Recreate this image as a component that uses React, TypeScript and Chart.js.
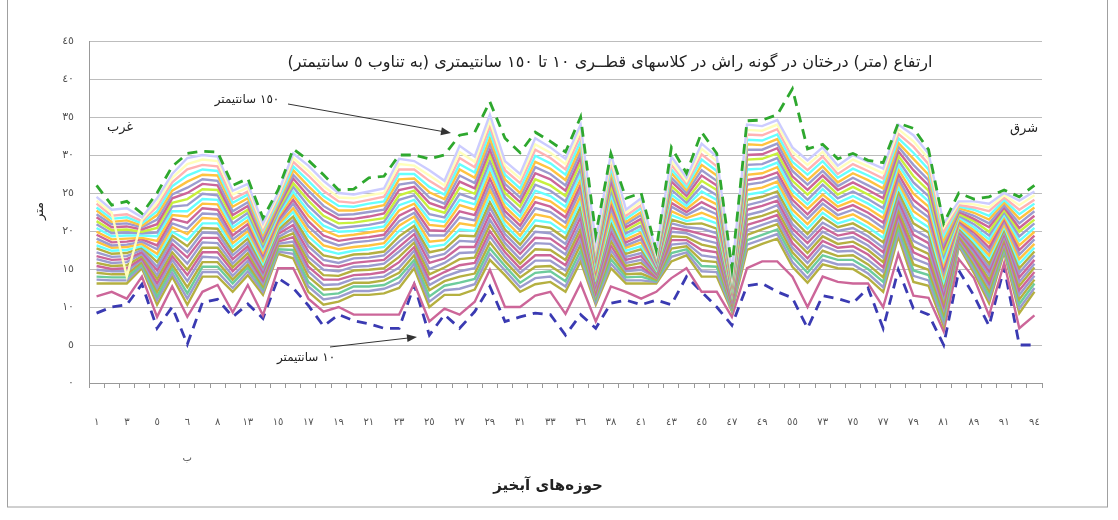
import React, { useEffect, useRef } from 'react';
import { Chart, registerables } from 'chart.js';

Chart.register(...registerables);

// Watershed codes (x categories); only every other one is printed on the axis
const CATEGORIES = ['١','٢','٣','٤','٥','٦ الف','٦ ب','٧','٨','١٢','١٣','١٤','١٥','١٦','١٧','١٨','١٩','٢٠','٢١','٢٢','٢٣','٢٤','٢٥','٢٦','٢٧','٢٨','٢٩','٣٠','٣١','٣٢','٣٣','٣٥','٣٦','٣٧','٣٨','٤٠','٤١','٤٢','٤٣','٤٤','٤٥','٤٦','٤٧','٤٨','٤٩','٥٠','٥٥','٧٠','٧٣','٧٤','٧٥','٧٦','٧٧','٧٨','٧٩','٨٠','٨١','٨٥','٨٩','٩٠','٩١','٩٢','٩٤'];

const Y_TICK_LABELS = ['٠','٥','١٠','١٥','٢٠','٢٥','٣٠','٣٥','٤٠','٤٥'];

const SERIES_LABELS = ['١٠','١٥','٢٠','٢٥','٣٠','٣٥','٤٠','٤٥','٥٠','٥٥','٦٠','٦٥','٧٠','٧٥','٨٠','٨٥','٩٠','٩٥','١٠٠','١٠٥','١١٠','١١٥','١٢٠','١٢٥','١٣٠','١٣٥','١٤٠','١٤٥','١٥٠'];

// Tree height (m) per diameter class (cm)
const H10 = [9.2,10.0,10.3,13.0,7.2,10.0,5.1,10.6,11.0,8.7,10.4,8.5,13.8,12.5,10.2,7.5,9.0,8.2,7.8,7.2,7.2,12.9,6.3,9.0,7.2,9.4,12.7,8.1,8.7,9.2,9.0,6.3,9.0,7.2,10.5,10.9,10.3,10.9,10.3,14.0,12.0,10.0,7.6,12.8,13.1,12.0,11.2,7.2,11.5,11.1,10.5,12.5,7.2,14.9,9.8,9.0,5.0,14.8,11.5,7.5,15.2,5.0,5.0];
const H15 = [11.4,12.0,11.1,14.0,8.7,12.7,8.7,12.0,12.9,9.3,12.9,8.9,15.1,15.1,11.1,9.4,10.0,9.0,9.0,9.0,9.0,13.1,8.1,9.8,9.0,10.7,14.9,10.0,10.0,11.5,12.0,9.1,13.1,8.1,12.7,12.0,11.1,12.0,13.8,15.1,12.0,12.0,8.7,15.1,16.0,16.0,14.0,10.0,14.0,13.3,13.1,13.1,10.0,17.0,11.5,11.2,6.8,16.3,13.8,8.9,15.8,7.2,8.9];
const H20 = [13.1,13.1,13.1,15.1,10.3,14.0,10.3,14.0,14.0,12.0,14.2,11.6,17.0,16.4,12.0,10.3,10.7,11.6,11.6,11.8,12.5,15.1,10.0,11.6,11.6,12.3,16.2,14.2,12.0,13.0,13.3,12.0,16.0,10.3,15.1,13.1,13.1,13.1,16.0,16.8,14.0,14.0,9.4,17.5,18.3,19.0,15.3,13.2,15.6,15.1,15.0,13.8,12.0,19.3,13.3,12.8,7.5,18.0,14.5,10.5,17.2,9.2,12.0];
const H25 = [13.6,13.5,13.5,15.4,10.9,14.5,11.1,14.6,14.6,12.5,14.7,12.0,17.3,17.0,12.7,11.0,11.3,12.1,12.1,12.4,13.2,15.7,10.7,12.2,12.4,13.0,17.0,14.8,12.6,13.8,14.0,12.7,16.7,10.6,15.7,13.5,13.5,13.3,16.6,17.2,14.7,14.6,9.6,18.2,18.9,19.6,15.9,13.8,16.2,15.6,15.6,14.4,12.6,19.9,14.1,13.5,8.0,18.2,14.9,11.0,17.5,9.8,12.5];
const H30 = [14.0,13.9,13.9,15.6,11.4,15.1,11.8,15.3,15.3,13.1,15.2,12.4,17.6,17.5,13.3,11.6,11.8,12.7,12.7,12.9,13.9,16.2,11.4,12.8,13.2,13.7,17.7,15.4,13.2,14.5,14.7,13.4,17.4,11.0,16.3,13.9,14.0,13.4,17.1,17.6,15.4,15.3,9.8,18.8,19.5,20.2,16.6,14.5,16.8,16.2,16.2,15.0,13.3,20.5,14.8,14.2,8.6,18.5,15.3,11.5,17.8,10.4,13.1];
const H35 = [14.5,14.3,14.3,15.9,12.0,15.6,12.6,15.9,15.9,13.6,15.6,12.7,18.0,18.1,14.0,12.3,12.4,13.2,13.2,13.5,14.5,16.8,12.2,13.4,14.0,14.4,18.5,16.0,13.9,15.3,15.4,14.1,18.2,11.3,16.9,14.3,14.4,13.6,17.7,18.0,16.1,15.9,10.0,19.5,20.2,20.9,17.2,15.1,17.4,16.7,16.8,15.6,13.9,21.1,15.6,14.9,9.1,18.7,15.6,12.1,18.1,11.0,13.6];
const H40 = [14.9,14.7,14.7,16.2,12.5,16.2,13.4,16.6,16.5,14.1,16.1,13.1,18.3,18.6,14.7,12.9,13.0,13.7,13.8,14.0,15.2,17.4,12.9,14.0,14.7,15.1,19.3,16.6,14.5,16.1,16.1,14.8,18.9,11.6,17.5,14.7,14.9,13.8,18.2,18.4,16.8,16.5,10.2,20.1,20.8,21.5,17.8,15.8,18.1,17.3,17.4,16.2,14.6,21.7,16.4,15.6,9.7,18.9,16.0,12.6,18.4,11.6,14.1];
const H45 = [15.4,15.0,15.1,16.4,13.1,16.7,14.2,17.2,17.2,14.7,16.6,13.5,18.6,19.2,15.3,13.6,13.6,14.2,14.3,14.6,15.9,17.9,13.6,14.6,15.5,15.8,20.0,17.2,15.1,16.8,16.8,15.5,19.6,11.9,18.1,15.0,15.3,13.9,18.8,18.8,17.5,17.2,10.4,20.8,21.4,22.1,18.4,16.4,18.7,17.8,18.0,16.9,15.2,22.2,17.2,16.3,10.2,19.2,16.4,13.1,18.8,12.2,14.6];
const H50 = [15.8,15.4,15.5,16.7,13.7,17.2,14.9,17.8,17.8,15.2,17.1,13.9,18.9,19.7,16.0,14.2,14.1,14.8,14.9,15.1,16.6,18.5,14.3,15.2,16.3,16.5,20.8,17.8,15.7,17.6,17.5,16.2,20.3,12.3,18.7,15.4,15.8,14.1,19.3,19.2,18.2,17.8,10.6,21.5,22.0,22.7,19.1,17.1,19.3,18.3,18.6,17.5,15.9,22.8,17.9,17.0,10.7,19.4,16.8,13.6,19.1,12.8,15.2];
const H55 = [16.3,15.8,15.9,17.0,14.2,17.8,15.7,18.5,18.4,15.7,17.6,14.2,19.2,20.3,16.6,14.9,14.7,15.3,15.4,15.7,17.3,19.0,15.0,15.8,17.1,17.2,21.5,18.4,16.3,18.4,18.3,16.9,21.0,12.6,19.3,15.8,16.2,14.2,19.9,19.7,18.9,18.4,10.9,22.1,22.6,23.4,19.7,17.7,19.9,18.9,19.2,18.1,16.5,23.4,18.7,17.7,11.3,19.7,17.1,14.2,19.4,13.3,15.7];
const H60 = [16.7,16.2,16.3,17.2,14.8,18.3,16.5,19.1,19.1,16.3,18.0,14.6,19.6,20.8,17.3,15.5,15.3,15.8,16.0,16.2,17.9,19.6,15.8,16.4,17.9,17.9,22.3,19.0,17.0,19.1,19.0,17.6,21.8,12.9,19.9,16.2,16.7,14.4,20.4,20.1,19.6,19.1,11.1,22.8,23.3,24.0,20.3,18.4,20.5,19.4,19.8,18.7,17.2,24.0,19.5,18.4,11.8,19.9,17.5,14.7,19.7,13.9,16.2];
const H65 = [17.2,16.6,16.7,17.5,15.3,18.9,17.2,19.8,19.7,16.8,18.5,15.0,19.9,21.4,18.0,16.2,15.8,16.4,16.5,16.8,18.6,20.2,16.5,17.0,18.7,18.6,23.1,19.6,17.6,19.9,19.7,18.3,22.5,13.3,20.5,16.6,17.1,14.6,21.0,20.5,20.3,19.7,11.3,23.4,23.9,24.6,20.9,19.0,21.1,20.0,20.4,19.3,17.8,24.6,20.2,19.1,12.4,20.1,17.9,15.2,20.0,14.5,16.8];
const H70 = [17.7,17.0,17.1,17.8,15.9,19.4,18.0,20.4,20.3,17.3,19.0,15.4,20.2,21.9,18.6,16.8,16.4,16.9,17.0,17.3,19.3,20.7,17.2,17.6,19.4,19.3,23.8,20.2,18.2,20.7,20.4,19.0,23.2,13.6,21.1,17.0,17.6,14.7,21.5,20.9,21.0,20.3,11.5,24.1,24.5,25.2,21.6,19.6,21.8,20.5,21.0,19.9,18.5,25.2,21.0,19.8,12.9,20.4,18.3,15.7,20.3,15.1,17.3];
const H75 = [18.1,17.4,17.5,18.0,16.5,19.9,18.8,21.0,21.0,17.9,19.5,15.7,20.5,22.5,19.3,17.5,17.0,17.4,17.6,17.9,20.0,21.3,17.9,18.2,20.2,20.0,24.6,20.8,18.8,21.4,21.1,19.7,23.9,13.9,21.7,17.4,18.0,14.9,22.1,21.3,21.7,21.0,11.7,24.8,25.1,25.9,22.2,20.3,22.4,21.0,21.6,20.5,19.1,25.8,21.8,20.5,13.4,20.6,18.6,16.3,20.6,15.7,17.8];
const H80 = [18.6,17.8,17.9,18.3,17.0,20.5,19.6,21.7,21.6,18.4,20.0,16.1,20.8,23.0,20.0,18.1,17.6,17.9,18.1,18.4,20.7,21.9,18.6,18.8,21.0,20.7,25.4,21.4,19.4,22.2,21.8,20.4,24.6,14.2,22.3,17.8,18.5,15.1,22.6,21.7,22.4,21.6,11.9,25.4,25.7,26.5,22.8,20.9,23.0,21.6,22.2,21.1,19.8,26.4,22.6,21.2,14.0,20.8,19.0,16.8,20.9,16.3,18.3];
const H85 = [19.0,18.1,18.2,18.6,17.6,21.0,20.3,22.3,22.2,18.9,20.4,16.5,21.2,23.6,20.6,18.8,18.1,18.5,18.7,19.0,21.3,22.4,19.4,19.4,21.8,21.4,26.1,22.0,20.1,23.0,22.5,21.1,25.4,14.6,23.0,18.1,18.9,15.2,23.2,22.1,23.1,22.2,12.1,26.1,26.4,27.1,23.5,21.6,23.6,22.1,22.8,21.8,20.4,26.9,23.3,21.8,14.5,21.1,19.4,17.3,21.3,16.9,18.9];
const H90 = [19.5,18.5,18.6,18.9,18.1,21.6,21.1,23.0,22.8,19.4,20.9,16.9,21.5,24.1,21.3,19.4,18.7,19.0,19.2,19.5,22.0,23.0,20.1,20.0,22.6,22.1,26.9,22.6,20.7,23.8,23.2,21.8,26.1,14.9,23.6,18.5,19.4,15.4,23.7,22.5,23.8,22.8,12.3,26.7,27.0,27.7,24.1,22.2,24.2,22.7,23.4,22.4,21.1,27.5,24.1,22.5,15.1,21.3,19.8,17.8,21.6,17.5,19.4];
const H95 = [19.9,18.9,19.0,19.1,18.7,22.1,21.9,23.6,23.5,20.0,21.4,17.2,21.8,24.7,22.0,20.1,19.3,19.5,19.8,20.1,22.7,23.6,20.8,20.6,23.4,22.8,27.7,23.2,21.3,24.5,23.9,22.5,26.8,15.2,24.2,18.9,19.8,15.6,24.3,22.9,24.5,23.5,12.5,27.4,27.6,28.4,24.7,22.9,24.8,23.2,24.0,23.0,21.7,28.1,24.9,23.2,15.6,21.5,20.1,18.4,21.9,18.1,19.9];
const H100 = [20.4,19.3,19.4,19.4,19.3,22.6,22.6,24.2,24.1,20.5,21.9,17.6,22.1,25.2,22.6,20.7,19.9,20.0,20.3,20.6,23.4,24.1,21.5,21.2,24.1,23.5,28.4,23.8,21.9,25.3,24.6,23.2,27.5,15.5,24.8,19.3,20.3,15.7,24.8,23.3,25.2,24.1,12.7,28.1,28.2,29.0,25.3,23.5,25.5,23.7,24.6,23.6,22.4,28.7,25.7,23.9,16.1,21.8,20.5,18.9,22.2,18.7,20.4];
const H105 = [20.9,19.7,19.8,19.7,19.8,23.2,23.4,24.9,24.7,21.0,22.4,18.0,22.4,25.8,23.3,21.4,20.4,20.6,20.8,21.2,24.1,24.7,22.2,21.8,24.9,24.2,29.2,24.4,22.5,26.1,25.3,23.9,28.2,15.9,25.4,19.7,20.7,15.9,25.4,23.7,25.9,24.7,12.9,28.7,28.8,29.6,26.0,24.1,26.1,24.3,25.2,24.2,23.0,29.3,26.4,24.6,16.7,22.0,20.9,19.4,22.5,19.3,21.0];
const H110 = [21.3,20.1,20.2,19.9,20.4,23.7,24.2,25.5,25.4,21.6,22.8,18.4,22.8,26.3,24.0,22.0,21.0,21.1,21.4,21.7,24.7,25.3,23.0,22.4,25.7,24.9,30.0,25.0,23.2,26.8,26.0,24.6,29.0,16.2,26.0,20.1,21.2,16.1,25.9,24.1,26.6,25.4,13.1,29.4,29.5,30.2,26.6,24.8,26.7,24.8,25.8,24.8,23.7,29.9,27.2,25.3,17.2,22.2,21.3,19.9,22.8,19.9,21.5];
const H115 = [21.8,20.5,20.6,20.2,20.9,24.3,25.0,26.2,26.0,22.1,23.3,18.7,23.1,26.9,24.6,22.7,21.6,21.6,21.9,22.3,25.4,25.8,23.7,23.0,26.5,25.6,30.7,25.6,23.8,27.6,26.8,25.3,29.7,16.5,26.6,20.5,21.6,16.2,26.5,24.6,27.3,26.0,13.4,30.0,30.1,30.9,27.2,25.4,27.3,25.4,26.4,25.4,24.3,30.5,28.0,26.0,17.8,22.5,21.6,20.5,23.1,20.4,22.0];
const H120 = [22.2,20.9,21.0,20.5,21.5,24.8,25.7,26.8,26.6,22.6,23.8,19.1,23.4,27.4,25.3,23.3,22.1,22.2,22.5,22.8,26.1,26.4,24.4,23.6,27.3,26.3,31.5,26.2,24.4,28.4,27.5,26.0,30.4,16.9,27.2,20.9,22.1,16.4,27.0,25.0,28.0,26.6,13.6,30.7,30.7,31.5,27.9,26.1,27.9,25.9,27.0,26.0,25.0,31.1,28.7,26.7,18.3,22.7,22.0,21.0,23.4,21.0,22.6];
const H125 = [22.7,21.2,21.4,20.7,22.1,25.3,26.5,27.4,27.3,23.2,24.3,19.5,23.7,28.0,25.9,24.0,22.7,22.7,23.0,23.4,26.8,26.9,25.1,24.2,28.1,27.0,32.2,26.8,25.0,29.1,28.2,26.7,31.1,17.2,27.8,21.2,22.5,16.5,27.6,25.4,28.7,27.3,13.8,31.4,31.3,32.1,28.5,26.7,28.5,26.4,27.6,26.7,25.6,31.6,29.5,27.4,18.8,23.0,22.4,21.5,23.8,21.6,23.1];
const H130 = [23.1,21.6,21.8,21.0,22.6,25.9,27.3,28.1,27.9,23.7,24.8,19.9,24.0,28.5,26.6,24.6,23.3,23.2,23.6,23.9,27.5,27.5,25.8,24.8,28.8,27.7,33.0,27.4,25.6,29.9,28.9,27.4,31.8,17.5,28.4,21.6,23.0,16.7,28.1,25.8,29.4,27.9,14.0,32.0,31.9,32.7,29.1,27.4,29.2,27.0,28.2,27.3,26.3,32.2,30.3,28.1,19.4,23.2,22.8,22.0,24.1,22.2,23.6];
const H135 = [23.6,22.0,22.2,21.3,23.2,26.4,28.1,28.7,28.5,24.2,25.2,20.2,24.4,29.1,27.3,25.3,23.9,23.7,24.1,24.5,28.1,28.1,26.6,25.4,29.6,28.4,33.8,28.0,26.3,30.7,29.6,28.1,32.6,17.8,29.0,22.0,23.4,16.9,28.7,26.2,30.1,28.5,14.2,32.7,32.6,33.4,29.7,28.0,29.8,27.5,28.8,27.9,26.9,32.8,31.1,28.8,19.9,23.4,23.1,22.6,24.4,22.8,24.1];
const H140 = [24.0,22.4,14.0,21.5,23.7,27.0,28.8,29.4,29.2,24.8,25.7,20.6,24.7,29.6,27.9,25.9,24.4,24.3,24.7,25.0,28.8,28.6,27.3,26.0,30.4,29.1,34.5,28.6,26.9,31.4,30.3,28.8,33.3,18.2,29.6,22.4,23.9,17.0,29.2,26.6,30.8,29.2,14.4,33.3,33.2,34.0,30.4,28.7,30.4,28.1,29.4,28.5,27.6,33.4,31.8,29.5,20.5,23.7,23.5,23.1,24.7,23.4,24.7];
const H145 = [24.5,22.8,23.0,21.8,24.3,27.5,29.6,30.0,29.8,25.3,26.2,21.0,25.0,30.2,28.6,26.6,25.0,24.8,25.2,25.6,29.5,29.2,28.0,26.6,31.2,29.8,35.3,29.2,27.5,32.2,31.0,29.5,34.0,18.5,30.2,22.8,24.3,17.2,29.8,27.0,31.5,29.8,14.6,34.0,33.8,34.6,31.0,29.3,31.0,28.6,30.0,29.1,28.2,34.0,32.6,30.2,21.0,23.9,23.9,23.6,25.0,24.0,25.2];
const H150 = [26.0,23.4,23.9,22.3,25.0,28.5,30.2,30.5,30.4,26.0,26.9,21.7,25.4,30.8,29.3,27.4,25.4,25.5,27.0,27.2,30.0,30.0,29.5,30.0,32.6,33.0,37.0,32.2,30.3,33.0,31.8,30.4,35.0,19.5,30.2,24.3,25.0,17.5,31.0,27.6,33.0,30.2,15.1,34.5,34.6,35.3,38.7,30.8,31.4,29.5,30.2,29.3,29.0,34.2,33.5,30.7,21.0,25.0,24.2,24.5,25.4,24.5,26.0];

const SERIES = [H10,H15,H20,H25,H30,H35,H40,H45,H50,H55,H60,H65,H70,H75,H80,H85,H90,H95,H100,H105,H110,H115,H120,H125,H130,H135,H140,H145,H150];

const COLORS = ['#3a3ab2','#cc6699','#b5b040','#9c9ccf','#6dcc9c','#b5b040','#9c9ccf','#cc6699','#b5b040','#9c9ccf','#cc6699','#9c9ccf','#b5b040','#66ffff','#ffc340','#9c9ccf','#cc6699','#ffc340','#66ffff','#9c9ccf','#c8f03c','#cc6699','#9c9ccf','#ffc340','#66ffff','#ffb3b3','#ffffbb','#ccccff','#2ea82e'];

const TITLE = 'ارتفاع (متر) درختان در گونه راش در کلاسهای قطــری ١٠ تا ١٥٠ سانتیمتری (به تناوب ٥ سانتیمتر)';
const FONT = '"DejaVu Sans", sans-serif';

function arrow(ctx: CanvasRenderingContext2D, x1: number, y1: number, x2: number, y2: number) {
  const a = Math.atan2(y2 - y1, x2 - x1);
  ctx.beginPath();
  ctx.moveTo(x1, y1);
  ctx.lineTo(x2 - 6 * Math.cos(a), y2 - 6 * Math.sin(a));
  ctx.stroke();
  ctx.beginPath();
  ctx.moveTo(x2, y2);
  ctx.lineTo(x2 - 10 * Math.cos(a) + 4 * Math.sin(a), y2 - 10 * Math.sin(a) - 4 * Math.cos(a));
  ctx.lineTo(x2 - 10 * Math.cos(a) - 4 * Math.sin(a), y2 - 10 * Math.sin(a) + 4 * Math.cos(a));
  ctx.closePath();
  ctx.fill();
}

const overlay = {
  id: 'overlay',
  afterDraw(chart: any) {
    const ctx: CanvasRenderingContext2D = chart.ctx;
    ctx.save();
    ctx.strokeStyle = '#a0a0a0';
    ctx.lineWidth = 1;
    ctx.strokeRect(7.5, -2, 1100, 509);

    ctx.fillStyle = '#222';
    ctx.direction = 'rtl';
    ctx.textAlign = 'center';
    ctx.textBaseline = 'middle';
    ctx.font = `16px ${FONT}`;
    ctx.fillText(TITLE, 610, 63);

    ctx.font = `12px ${FONT}`;
    ctx.fillText('١٥٠ سانتیمتر', 247, 100);
    ctx.fillText('١٠ سانتیمتر', 306, 358);
    ctx.font = `13px ${FONT}`;
    ctx.fillText('غرب', 120, 128);
    ctx.fillText('شرق', 1024, 129);

    ctx.font = `bold 15px ${FONT}`;
    ctx.fillText('حوزه‌های آبخیز', 548, 486);

    ctx.save();
    ctx.translate(40, 211);
    ctx.rotate(-Math.PI / 2);
    ctx.font = `13px ${FONT}`;
    ctx.fillText('متر', 0, 0);
    ctx.restore();

    ctx.strokeStyle = '#333';
    ctx.fillStyle = '#333';
    ctx.lineWidth = 1;
    arrow(ctx, 288, 104, 451, 133);
    arrow(ctx, 330, 347, 417, 337);
    ctx.restore();
  },
};

export default function App() {
  const ref = useRef<HTMLCanvasElement>(null);
  useEffect(() => {
    const canvas = ref.current!;
    const last = SERIES.length - 1;
    const datasets = SERIES.map((data, i) => ({
      label: SERIES_LABELS[i] + ' سانتیمتر',
      data,
      borderColor: COLORS[i],
      backgroundColor: COLORS[i],
      borderWidth: i === 0 || i === last ? 2.8 : 2.4,
      borderDash: i === 0 || i === last ? [10, 7] : [],
      pointRadius: 0,
      tension: 0,
      fill: false,
      order: last - i,
    }));
    const chart = new Chart(canvas, {
      type: 'line',
      data: { labels: CATEGORIES, datasets },
      options: {
        animation: false,
        responsive: false,
        devicePixelRatio: 1,
        layout: { padding: { top: 41, right: 76, left: 0, bottom: 0 } },
        plugins: { legend: { display: false }, tooltip: { enabled: false }, title: { display: false } },
        scales: {
          x: {
            type: 'category',
            offset: true,
            grid: { offset: true, drawOnChartArea: false, drawTicks: true, tickLength: 5, color: '#999' },
            border: { display: true, color: '#999', width: 1 },
            ticks: {
              autoSkip: false,
              maxRotation: 0,
              minRotation: 0,
              padding: 28,
              color: '#555',
              font: { family: FONT, size: 10, lineHeight: 1.2 },
              callback: (_v: any, index: number) => {
                if (index % 2) return '';
                const lab = CATEGORIES[index];
                if (lab.includes(' ')) {
                  const parts = lab.split(' ');
                  return [parts[0], '', '', parts[1]];
                }
                return lab;
              },
            },
            afterFit: (s: any) => { s.height = 137; },
          },
          y: {
            min: 0,
            max: 45,
            ticks: {
              stepSize: 5,
              padding: 15,
              color: '#555',
              font: { family: FONT, size: 11 },
              callback: (v: any) => Y_TICK_LABELS[Math.round(Number(v) / 5)],
            },
            grid: { color: '#bdbdbd', drawTicks: false, lineWidth: 1 },
            border: { display: true, color: '#999', width: 1 },
            afterFit: (s: any) => { s.width = 89; },
          },
        },
      },
      plugins: [overlay],
    } as any);
    return () => chart.destroy();
  }, []);
  return (
    <div style={{ position: 'absolute', left: 0, top: 0, width: 1118, height: 520 }}>
      <canvas ref={ref} width={1118} height={520} style={{ display: 'block' }} />
    </div>
  );
}
